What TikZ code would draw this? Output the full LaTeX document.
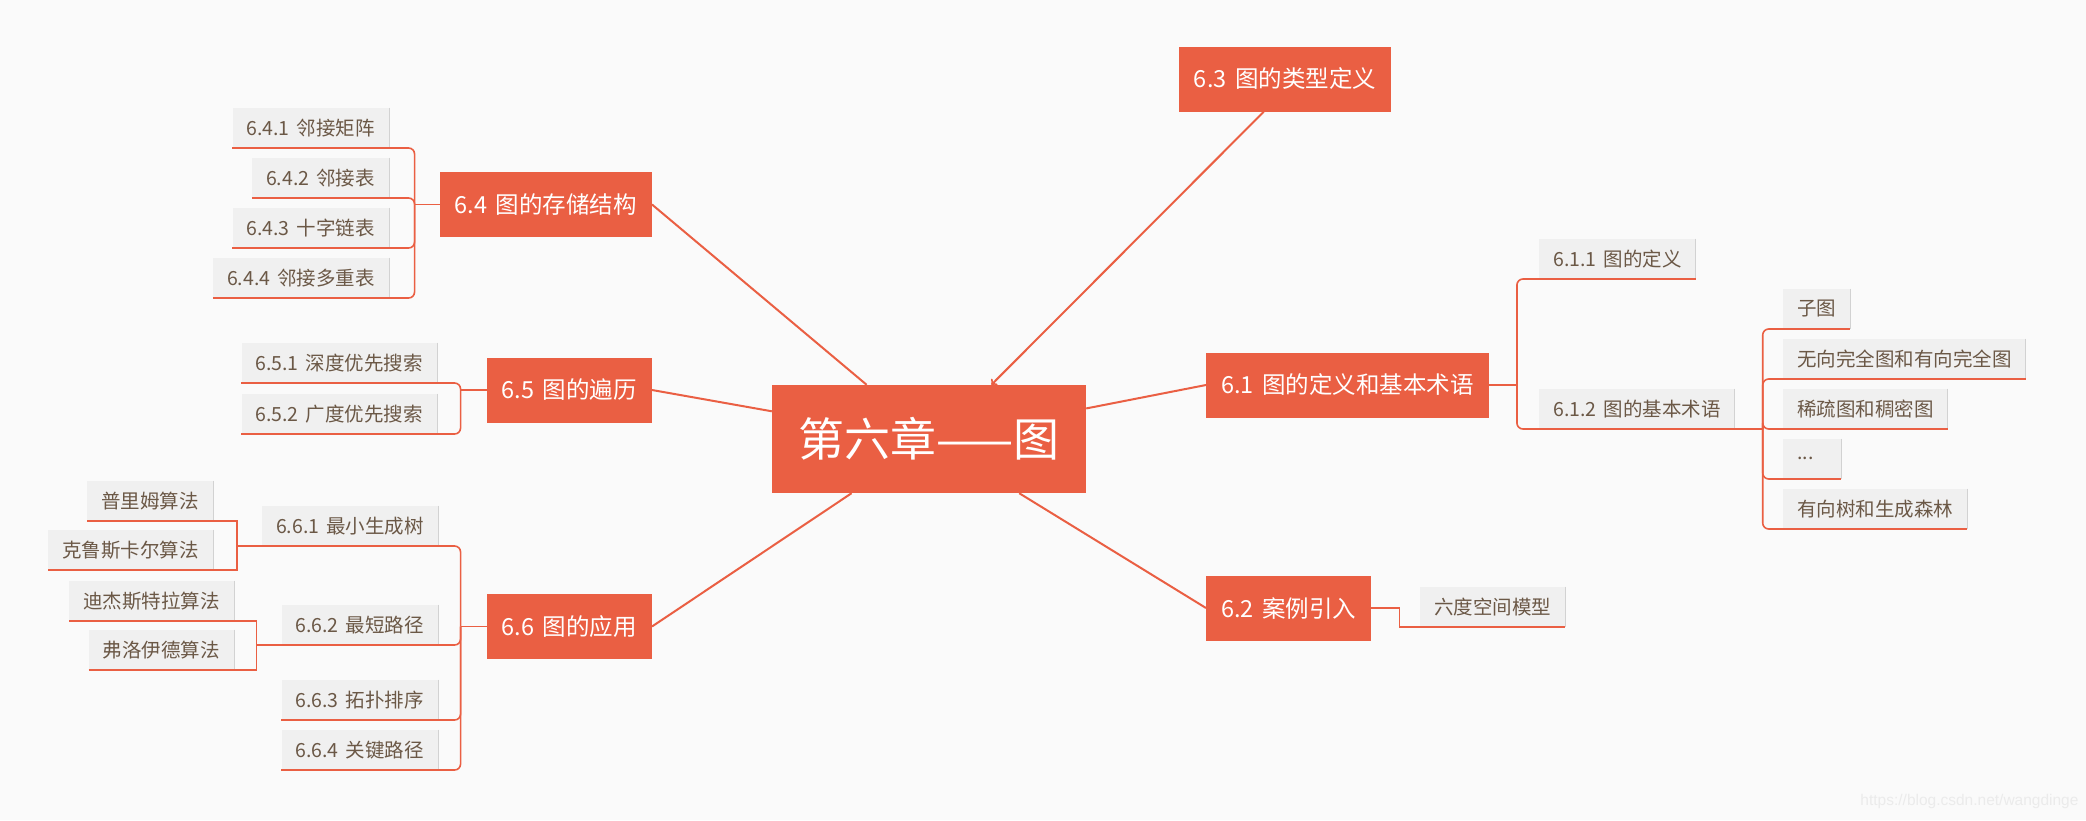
\documentclass[tikz,border=0pt]{standalone}
\usepackage{fontspec}
\setmainfont{Noto Sans CJK SC}[WordSpace=1.6]
\usepackage{xcolor}
\definecolor{mapred}{HTML}{EA5F43}
\definecolor{leafgray}{HTML}{F0F0F0}
\definecolor{leafedge}{HTML}{D2D2D2}
\definecolor{leafbrown}{HTML}{6B5846}
\definecolor{paper}{HTML}{FAFAFA}

\begin{document}
\begin{tikzpicture}[x=1pt,y=-1pt,
  topic/.style={fill=mapred, text=white, font=\fontsize{23.5}{26}\selectfont,
    minimum height=65pt, inner xsep=15pt, inner ysep=0pt},
  leaf/.style={fill=leafgray, text=leafbrown, font=\fontsize{19.5}{22}\selectfont,
    minimum height=40pt, inner xsep=14pt, inner ysep=0pt},
  link/.style={draw=mapred, line width=2pt},
  twig/.style={draw=mapred, line width=1.6pt}]

% the paper
\fill[paper] (0,0) rectangle (2086,820);
\useasboundingbox (0,0) rectangle (2086,820);

%% the chapter in the middle
\node[topic, font=\fontsize{46}{50}\selectfont, minimum width=314pt, minimum height=108pt] (c) at (929,439) {第六章——图};

%% the sections
\node[topic] (h63) at (1285,79) {6.3 图的类型定义};
\node[topic, anchor=east] (h64) at (652,204.5) {6.4 图的存储结构};
\node[topic, anchor=east] (h65) at (652,390) {6.5 图的遍历};
\node[topic, anchor=east] (h66) at (652,626.5) {6.6 图的应用};
\node[topic, anchor=west] (h61) at (1206,385) {6.1 图的定义和基本术语};
\node[topic, anchor=west] (h62) at (1206,608) {6.2 案例引入};

% lines from the sections to the chapter
\draw[link] (h64.east) -- (c.139.4);
\draw[link] (h65.east) -- (c.170);
\draw[link] (h66.east) -- (c.215);
\draw[link] (h61.west) -- (c.11);
\draw[link] (h62.west) -- (c.-31.6);
\draw[link, ->] (h63.237.5) -- (c.41);

%% the leaves on the left
\node[leaf, anchor=south east] (l641) at (389,148) {6.4.1 邻接矩阵};
\node[leaf, anchor=south east] (l642) at (389,198) {6.4.2 邻接表};
\node[leaf, anchor=south east] (l643) at (389,248) {6.4.3 十字链表};
\node[leaf, anchor=south east] (l644) at (389,298) {6.4.4 邻接多重表};
\node[leaf, anchor=south east] (l651) at (437,383) {6.5.1 深度优先搜索};
\node[leaf, anchor=south east] (l652) at (437,434) {6.5.2 广度优先搜索};
\node[leaf, anchor=south east] (l661) at (438,546) {6.6.1 最小生成树};
\node[leaf, anchor=south east] (l662) at (438,645) {6.6.2 最短路径};
\node[leaf, anchor=south east] (l663) at (438,720) {6.6.3 拓扑排序};
\node[leaf, anchor=south east] (l664) at (438,770) {6.6.4 关键路径};
\node[leaf, anchor=south east] (l6611) at (213,521) {普里姆算法};
\node[leaf, anchor=south east] (l6612) at (213,570) {克鲁斯卡尔算法};
\node[leaf, anchor=south east] (l6621) at (234,621) {迪杰斯特拉算法};
\node[leaf, anchor=south east] (l6622) at (234,670) {弗洛伊德算法};

%% the leaves on the right
\node[leaf, anchor=south west] (l611) at (1539,279) {6.1.1 图的定义};
\node[leaf, anchor=south west] (l612) at (1539,429) {6.1.2 图的基本术语};
\node[leaf, anchor=south west] (t1) at (1783,329) {子图};
\node[leaf, anchor=south west] (t2) at (1783,379) {无向完全图和有向完全图};
\node[leaf, anchor=south west] (t3) at (1783,429) {稀疏图和稠密图};
\node[leaf, anchor=south west, minimum width=58pt, text width=30pt] (t4) at (1783,479) {...};
\node[leaf, anchor=south west] (t5) at (1783,529) {有向树和生成森林};
\node[leaf, anchor=south west] (l621) at (1420,627) {六度空间模型};

% grey edge and red underline of every leaf
\foreach \n in {l641,l642,l643,l644,l651,l652,l661,l662,l663,l664,l6611,l6612,l6621,l6622,
                l611,l612,t1,t2,t3,t4,t5,l621}
{
  \draw[leafedge, line width=1pt] (\n.north east) -- (\n.south east);
  \draw[mapred, line width=2pt] (\n.south west) -- (\n.south east);
}

%% the brackets
\path (h64.west) ++(-25,0) coordinate (b64);
\path (h65.west) ++(-26,0) coordinate (b65);
\path (h66.west) ++(-26,0) coordinate (b66);
\path (l661.south west) ++(-25,0) coordinate (b661);
\path (l662.south west) ++(-25,0) coordinate (b662);
\path (h61.east) ++(28,0) coordinate (b61);
\path (l612.south east) ++(28,0) coordinate (b612);
\path (h62.east) ++(28,0) coordinate (b62);

\draw[twig] (h64.west) -- (b64);
\foreach \n in {l641,l642,l643,l644}
  \draw[twig, rounded corners=6pt] (b64) |- (\n.south east);

\draw[twig] (h65.west) -- (b65);
\foreach \n in {l651,l652}
  \draw[twig, rounded corners=6pt] (b65) |- (\n.south east);

\draw[twig] (h66.west) -- (b66);
\foreach \n in {l661,l662,l663,l664}
  \draw[twig, rounded corners=6pt] (b66) |- (\n.south east);

\draw[twig] (l661.south west) -- (b661);
\foreach \n in {l6611,l6612}
  \draw[twig] (b661) |- (\n.south east);

\draw[twig] (l662.south west) -- (b662);
\foreach \n in {l6621,l6622}
  \draw[twig] (b662) |- (\n.south east);

\draw[twig] (h61.east) -- (b61);
\foreach \n in {l611,l612}
  \draw[twig, rounded corners=6pt] (b61) |- (\n.south west);

\draw[twig] (l612.south east) -- (b612);
\foreach \n in {t1,t2,t3,t4,t5}
  \draw[twig, rounded corners=6pt] (b612) |- (\n.south west);

\draw[twig] (h62.east) -- (b62) |- (l621.south west);

% watermark
\node[anchor=east, text=black!8, font=\fontspec{Liberation Sans}\fontsize{15.5}{16}\selectfont] (wm) at (2082,801) {https://blog.csdn.net/wangdinge};

\end{tikzpicture}
\end{document}
